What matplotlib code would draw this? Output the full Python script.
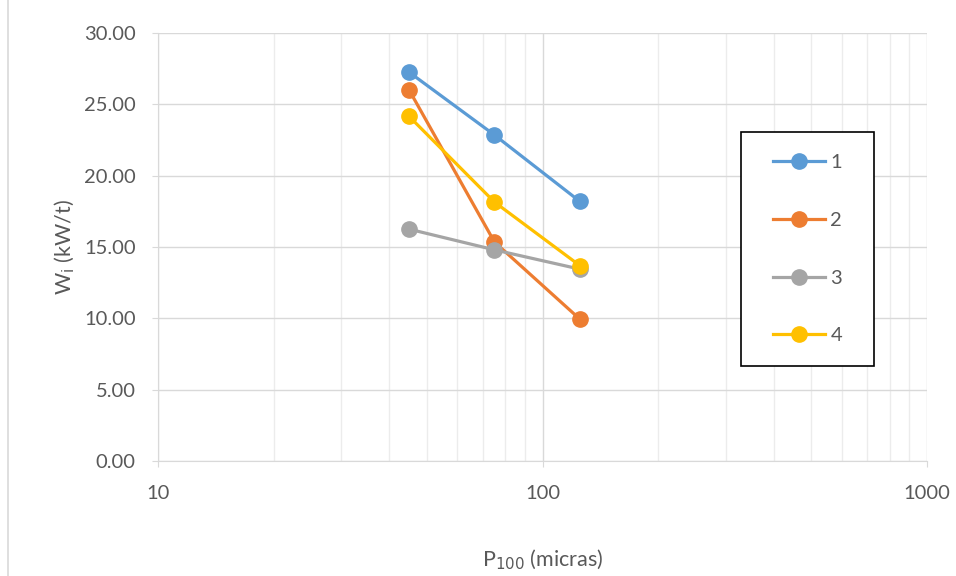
import matplotlib
matplotlib.use("Agg")
import matplotlib.pyplot as plt
import matplotlib.ticker as mticker
from matplotlib.lines import Line2D
from matplotlib.patches import Rectangle

plt.rcParams['font.family'] = ['Lato', 'DejaVu Sans']

# data
p100 = [45, 75, 125]
wi_1 = [27.25, 22.85, 18.2]
wi_2 = [26.0, 15.35, 9.95]
wi_3 = [16.25, 14.8, 13.45]
wi_4 = [24.15, 18.15, 13.7]
labels = ["1", "2", "3", "4"]
colors = ["#5B9BD5", "#ED7D31", "#A5A5A5", "#FFC000"]

text_col = "#595959"
grid_col = "#d9d9d9"

fig = plt.figure(figsize=(9.56, 5.76), dpi=100)
ax = fig.add_axes([158/956, 1 - 461/576, (927-158)/956, (461-33)/576])

for ys, lab, c in zip([wi_1, wi_2, wi_3, wi_4], labels, colors):
    ax.plot(p100, ys, color=c, lw=2.3, marker='o', markersize=11, label=lab)

ax.set_xscale('log')
ax.set_xlim(10, 1000)
ax.set_ylim(0, 30)
ax.set_yticks([0, 5, 10, 15, 20, 25, 30])
ax.yaxis.set_major_formatter(mticker.FuncFormatter(lambda v, p: f"{v:.2f}"))
ax.xaxis.set_major_formatter(mticker.FuncFormatter(lambda v, p: f"{v:g}"))
ax.xaxis.set_minor_formatter(mticker.NullFormatter())

ax.grid(True, which='major', color=grid_col, lw=1.0)
ax.grid(True, which='minor', axis='x', color='#ececec', lw=1.0)
ax.set_axisbelow(True)
for s in ['top', 'right']:
    ax.spines[s].set_visible(False)
for s in ['left', 'bottom']:
    ax.spines[s].set_color(grid_col)
ax.tick_params(which='both', colors=grid_col, labelcolor=text_col, labelsize=14.5, length=4)
ax.tick_params(axis='x', which='minor', length=0)
ax.tick_params(axis='x', pad=13)
ax.tick_params(axis='y', pad=12)

ax.set_xlabel("P$_{100}$ (micras)", color=text_col, fontsize=15.5, labelpad=33)
ax.set_ylabel("W$_{\\mathrm{i}}$ (kW/t)", color=text_col, fontsize=15.5, labelpad=5)

# legend box drawn separately, entries centred inside it
ax.add_patch(Rectangle((0.758, 0.222), 0.173, 0.547, transform=ax.transAxes,
                       facecolor='white', edgecolor='black', lw=1.2, zorder=5))
leg = ax.legend(loc='center', bbox_to_anchor=(0.8446, 0.495), borderaxespad=0,
                frameon=False, fontsize=14.5, handlelength=2.6, labelspacing=2.02,
                borderpad=0, handletextpad=0.25, labelcolor=text_col)
leg.set_zorder(6)

# outer chart border on the left edge
fig.add_artist(Line2D([8/956, 8/956], [0, 1], color=grid_col, lw=1.2))

fig.savefig("out.png", dpi=100)
